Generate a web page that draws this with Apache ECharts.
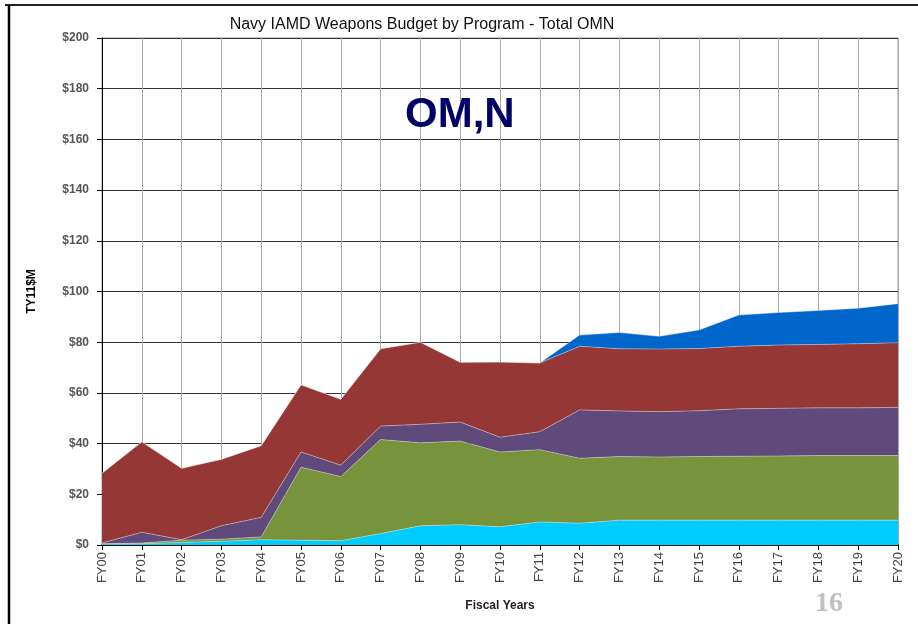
<!DOCTYPE html>
<html>
<head>
<meta charset="utf-8">
<script src="https://cdn.jsdelivr.net/npm/echarts@6/dist/echarts.min.js"></script>
<style>
  html, body { margin: 0; padding: 0; background: #fff; }
  #chart { width: 918px; height: 624px; }
</style>
</head>
<body>
<div id="chart"></div>
<script>
// fiscal years on the x axis
const years = ['FY00', 'FY01', 'FY02', 'FY03', 'FY04', 'FY05', 'FY06', 'FY07', 'FY08', 'FY09', 'FY10',
  'FY11', 'FY12', 'FY13', 'FY14', 'FY15', 'FY16', 'FY17', 'FY18', 'FY19', 'FY20']

// stacked layers, bottom to top (TY11 $M)
const cyanVals   = [0.3, 0.5, 1.0, 1.5, 2.1, 1.9, 1.7, 4.5, 7.6, 8.0, 7.2, 9.1, 8.6, 9.8, 9.8, 9.8, 9.8, 9.8, 9.8, 9.8, 9.8]
const greenVals  = [0.2, 0.3, 0.9, 0.8, 1.1, 28.8, 25.3, 37.1, 32.7, 33.0, 29.5, 28.5, 25.6, 25.1, 24.9, 25.1, 25.2, 25.3, 25.5, 25.5, 25.5]
const purpleVals = [0.3, 4.2, 0.2, 5.3, 7.7, 6.0, 4.5, 5.3, 7.3, 7.5, 5.8, 7.1, 19.1, 18.0, 17.9, 18.1, 18.7, 18.8, 18.8, 18.8, 19.0]
const redVals    = [27.5, 35.7, 28.2, 26.2, 28.3, 26.5, 26.0, 30.5, 32.4, 23.6, 29.7, 27.1, 25.1, 24.5, 24.7, 24.5, 24.7, 25.0, 25.0, 25.3, 25.5]
const blueVals   = [0, 0, 0, 0, 0, 0, 0, 0, 0, 0, 0, 0, 4.4, 6.4, 5.0, 7.3, 12.3, 12.8, 13.4, 14.0, 15.4]

const layers = [
  { name: 'A', data: cyanVals, color: '#00CCFF' },
  { name: 'B', data: greenVals, color: '#77933C' },
  { name: 'C', data: purpleVals, color: '#604A7B' },
  { name: 'D', data: redVals, color: '#953735' },
  { name: 'E', data: blueVals, color: '#0066CC' }
]

const chart = echarts.init(document.getElementById('chart'))

const option = {
  animation: false,
  backgroundColor: '#fff',
  title: {
    text: 'Navy IAMD Weapons Budget by Program - Total OMN',
    left: 417,
    top: 12,
    textAlign: 'center',
    textStyle: { fontFamily: 'Liberation Sans', fontSize: 16, fontWeight: 'normal', color: '#111' }
  },
  grid: {
    left: 102, right: 20, top: 38, bottom: 79,
    show: true, borderColor: '#999', borderWidth: 1
  },
  xAxis: {
    type: 'category',
    data: years,
    boundaryGap: false,
    name: 'Fiscal Years',
    nameLocation: 'middle',
    nameGap: 55,
    nameTextStyle: { fontFamily: 'Liberation Sans', fontSize: 12, fontWeight: 'bold', color: '#2a1a1a' },
    axisLine: { lineStyle: { color: '#000', width: 1.5 } },
    axisTick: { alignWithLabel: true, length: 5, lineStyle: { color: '#000' } },
    axisLabel: {
      rotate: 90, interval: 0, margin: 7,
      fontFamily: 'Liberation Sans', fontSize: 13, color: '#444'
    },
    splitLine: { show: true, lineStyle: { color: '#a8a8a8', width: 1 } }
  },
  yAxis: {
    type: 'value',
    min: 0, max: 200, interval: 20,
    name: 'TY11$M',
    nameLocation: 'middle',
    nameGap: 64,
    nameTextStyle: { fontFamily: 'Liberation Sans', fontSize: 12, fontWeight: 'bold', color: '#000' },
    axisLine: { show: true, lineStyle: { color: '#000', width: 1 } },
    axisTick: { show: true, length: 5, lineStyle: { color: '#000' } },
    axisLabel: {
      formatter: v => '$' + v,
      margin: 13,
      fontFamily: 'Liberation Sans', fontSize: 12, fontWeight: 'bold', color: '#555'
    },
    splitLine: { show: true, lineStyle: { color: '#333', width: 1 } }
  },
  series: layers.map(l => ({
    name: l.name,
    type: 'line',
    stack: 'total',
    data: l.data,
    symbol: 'none',
    lineStyle: { width: 0.8, color: 'rgba(255,255,255,0.45)' },
    areaStyle: { color: l.color, opacity: 1 },
    z: 3
  })),
  graphic: [
    { type: 'line', shape: { x1: 5, y1: 5, x2: 918, y2: 5 }, style: { stroke: '#222', lineWidth: 2 } },
    { type: 'line', shape: { x1: 9, y1: 5, x2: 9, y2: 624 }, style: { stroke: '#000', lineWidth: 2.5 } },
    {
      type: 'text', left: 405, top: 94, z: 10,
      style: { text: 'OM,N', fontFamily: 'Liberation Sans', fontSize: 42, fontWeight: 'bold', fill: '#000066' }
    },
    {
      type: 'text', left: 815, top: 590, z: 10,
      style: { text: '16', fontFamily: 'Liberation Serif', fontSize: 28, fontWeight: 'bold', fill: '#c0c0c0' }
    }
  ]
}

chart.setOption(option)
</script>
</body>
</html>
